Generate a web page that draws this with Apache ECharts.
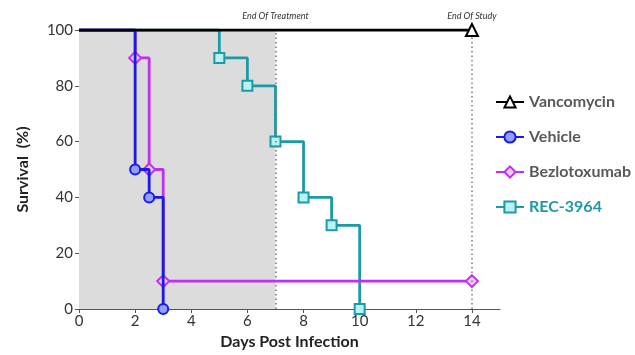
<!DOCTYPE html>
<html><head><meta charset="utf-8">
<script src="https://cdn.jsdelivr.net/npm/echarts@6/dist/echarts.min.js"></script>
<style>html,body{margin:0;padding:0;background:#fff}#c{width:635px;height:355px}</style>
</head><body><div id="c"></div>
<script>
var xTicks = [0, 2, 4, 6, 8, 10, 12, 14];
var vancomycin = [[0, 100], [14, 100]];
var vehicle = [[0, 100], [2, 50], [2.5, 40], [3, 0]];
var bezlotoxumab = [[0, 100], [2, 90], [2.5, 50], [3, 10], [14, 10]];
var rec3964 = [[0, 100], [5, 90], [6, 80], [7, 60], [8, 40], [9, 30], [10, 0]];
var names = ['Vancomycin', 'Vehicle', 'Bezlotoxumab', 'REC-3964'];
var treatmentEnd = 7, studyEnd = 14;

function pts(arr, markFirst) {
  return arr.map(function (p, i) {
    return i === 0 && !markFirst ? { value: p, symbol: 'none' } : { value: p };
  });
}
var FONT = 'Lato, "Open Sans", sans-serif';
var chart = echarts.init(document.getElementById('c'));
chart.setOption({
  animation: false,
  textStyle: { fontFamily: FONT },
  grid: { left: 79, top: 30, width: 421, height: 279, containLabel: false },
  legend: {
    orient: 'vertical', left: 490, top: 89, itemGap: 19, itemWidth: 28, itemHeight: 14,
    textStyle: { fontFamily: FONT, fontWeight: 'bold', fontSize: 16, color: '#595959' },
    data: [
      { name: 'Vancomycin' }, { name: 'Vehicle' }, { name: 'Bezlotoxumab' },
      { name: 'REC-3964', textStyle: { color: '#1e9aa6' } }
    ]
  },
  xAxis: {
    type: 'value', min: 0, max: 15, interval: 2,
    name: 'Days Post Infection', nameLocation: 'middle', nameGap: 25,
    nameTextStyle: { fontFamily: FONT, fontWeight: 'bold', fontSize: 16, color: '#222' },
    axisLine: { show: true, lineStyle: { color: '#555', width: 1 } },
    axisTick: { show: true, length: 4, customValues: xTicks, lineStyle: { color: '#555' } },
    axisLabel: { customValues: xTicks, fontSize: 15, color: '#333', margin: 5 },
    splitLine: { show: false }
  },
  yAxis: {
    type: 'value', min: 0, max: 100, interval: 20,
    name: 'Survival  (%)', nameLocation: 'middle', nameGap: 48,
    nameTextStyle: { fontFamily: FONT, fontWeight: 'bold', fontSize: 16, color: '#222' },
    axisLine: { show: true, lineStyle: { color: '#555', width: 1 } },
    axisTick: { show: true, length: 4, lineStyle: { color: '#555' } },
    axisLabel: { fontSize: 15, color: '#333', margin: 6 },
    splitLine: { show: false }
  },
  series: [
    {
      name: 'REC-3964', type: 'line', step: 'end', z: 3,
      data: pts(rec3964), symbol: 'rect', symbolSize: 10,
      lineStyle: { color: '#1e9aa6', width: 2.8 },
      itemStyle: { color: '#b8f2f2', borderColor: '#1e9aa6', borderWidth: 2 },
      markArea: {
        silent: true, itemStyle: { color: '#dcdcdc' },
        data: [[{ xAxis: 0, yAxis: 0 }, { xAxis: treatmentEnd, yAxis: 100 }]]
      },
      markLine: {
        silent: true, symbol: 'none',
        lineStyle: { color: '#777', type: [1.5, 3], width: 1.5 },
        label: { position: 'end', fontSize: 9, fontStyle: 'italic', color: '#333', fontFamily: FONT, distance: 9 },
        data: [
          [{ coord: [treatmentEnd, 0] }, { coord: [treatmentEnd, 100], label: { formatter: 'End Of Treatment' } }],
          [{ coord: [studyEnd, 0] }, { coord: [studyEnd, 100], label: { formatter: 'End Of Study' } }]
        ]
      }
    },
    {
      name: 'Bezlotoxumab', type: 'line', step: 'end', z: 4,
      data: pts(bezlotoxumab), symbol: 'diamond', symbolSize: 12,
      lineStyle: { color: '#c030f0', width: 2.8 },
      itemStyle: { color: '#f4c8ff', borderColor: '#c030f0', borderWidth: 2 }
    },
    {
      name: 'Vehicle', type: 'line', step: 'end', z: 5,
      data: pts(vehicle), symbol: 'circle', symbolSize: 10,
      lineStyle: { color: '#1a1ae6', width: 2.8 },
      itemStyle: { color: '#8fa0ff', borderColor: '#1a1ae6', borderWidth: 2 }
    },
    {
      name: 'Vancomycin', type: 'line', step: 'end', z: 6,
      data: pts(vancomycin), symbol: 'triangle', symbolSize: 12,
      lineStyle: { color: '#000', width: 3 },
      itemStyle: { color: '#fff', borderColor: '#000', borderWidth: 2 }
    }
  ]
});
</script></body></html>
